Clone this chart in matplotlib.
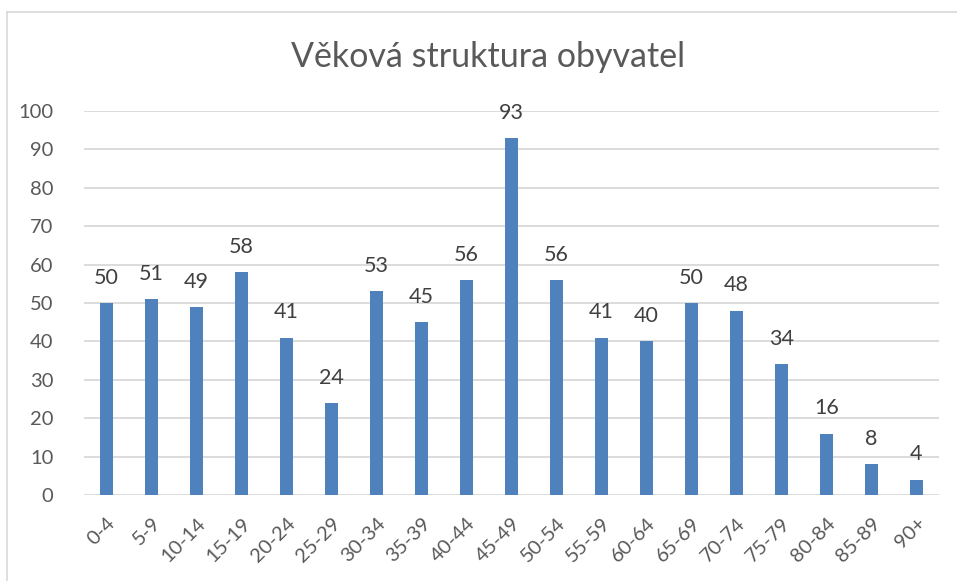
import matplotlib
matplotlib.use('Agg')
from matplotlib import pyplot as plt
from matplotlib.lines import Line2D

categories = ['0-4', '5-9', '10-14', '15-19', '20-24', '25-29', '30-34', '35-39',
              '40-44', '45-49', '50-54', '55-59', '60-64', '65-69', '70-74',
              '75-79', '80-84', '85-89', '90+']
values = [50, 51, 49, 58, 41, 24, 53, 45, 56, 93, 56, 41, 40, 50, 48, 34, 16, 8, 4]
y_ticks = [0, 10, 20, 30, 40, 50, 60, 70, 80, 90, 100]

W, H = 957, 581
text_col = '#595959'
bar_col = '#4F81BD'
grid_col = '#D9D9D9'

plt.rcParams['font.family'] = ['Lato', 'DejaVu Sans']

fig = plt.figure(figsize=(W / 100, H / 100), dpi=100)
# plot area in pixels: x 84..939, y 111..495
ax = fig.add_axes([84 / W, 1 - 495 / H, (939 - 84) / W, (495 - 111) / H])

x = range(len(categories))
ax.bar(x, values, width=0.31, color=bar_col, zorder=3)
for xi, v in zip(x, values):
    ax.annotate(str(v), (xi, v), xytext=(0, 11), textcoords='offset points',
                ha='center', va='bottom', fontsize=15.5, color='#404040')

ax.set_xlim(-0.5, len(categories) - 0.5)
ax.set_ylim(0, 100)
ax.set_yticks(y_ticks)
ax.set_xticks(list(x))
ax.set_xticklabels(categories, rotation=45, ha='right', rotation_mode='anchor')
ax.tick_params(axis='both', length=0, labelsize=14.5, labelcolor=text_col)
ax.tick_params(axis='y', pad=22)
ax.tick_params(axis='x', pad=14)
ax.grid(axis='y', color=grid_col, linewidth=1.3, zorder=0)
for s in ax.spines.values():
    s.set_visible(False)

fig.text(488 / W, 1 - 57 / H, 'Věková struktura obyvatel', ha='center', va='center',
         fontsize=24.5, color=text_col)

# chart border (top and left edges visible)
fig.add_artist(Line2D([7 / W, 1], [1 - 12 / H, 1 - 12 / H], color='#D9D9D9', linewidth=1.2,
                      transform=fig.transFigure))
fig.add_artist(Line2D([7 / W, 7 / W], [0, 1 - 12 / H], color='#D9D9D9', linewidth=1.2,
                      transform=fig.transFigure))

fig.savefig('out.png', dpi=100)
